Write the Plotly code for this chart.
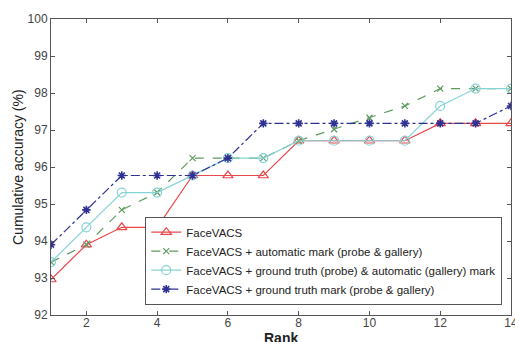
import plotly.graph_objects as go

rank = list(range(1, 15))
facevacs = [92.96, 93.90, 94.37, 94.37, 95.77, 95.77, 95.77, 96.71, 96.71, 96.71, 96.71, 97.18, 97.18, 97.18]
auto_mark = [93.43, 93.90, 94.84, 95.31, 96.24, 96.24, 96.24, 96.71, 97.02, 97.33, 97.65, 98.12, 98.12, 98.12]
gt_probe_auto_gallery = [93.43, 94.37, 95.31, 95.31, 95.77, 96.24, 96.24, 96.71, 96.71, 96.71, 96.71, 97.65, 98.12, 98.12]
gt_mark = [93.90, 94.84, 95.77, 95.77, 95.77, 96.24, 97.18, 97.18, 97.18, 97.18, 97.18, 97.18, 97.18, 97.65]

names = [
    "FaceVACS",
    "FaceVACS + automatic mark (probe &amp; gallery)",
    "FaceVACS + ground truth (probe) &amp; automatic (gallery) mark",
    "FaceVACS + ground truth mark (probe &amp; gallery)",
]
x_ticks = [2, 4, 6, 8, 10, 12, 14]
y_ticks = [92, 93, 94, 95, 96, 97, 98, 99, 100]
FONT = "Liberation Sans, Arial"

fig = go.Figure()
fig.add_trace(go.Scatter(x=rank, y=facevacs, name=names[0], mode="lines+markers",
                         line=dict(color="#e8474c", width=1.2),
                         marker=dict(symbol="triangle-up-open", size=9, color="#e8474c", line=dict(width=1.2))))
fig.add_trace(go.Scatter(x=rank, y=auto_mark, name=names[1], mode="lines+markers",
                         line=dict(color="#5f9a5f", width=1.2, dash="dash"),
                         marker=dict(symbol="x-thin-open", size=6, color="#5f9a5f", line=dict(width=1.2))))
fig.add_trace(go.Scatter(x=rank, y=gt_probe_auto_gallery, name=names[2], mode="lines+markers",
                         line=dict(color="#86d3d6", width=1.2),
                         marker=dict(symbol="circle-open", size=9, color="#86d3d6", line=dict(width=1.2))))
fig.add_trace(go.Scatter(x=rank, y=gt_mark, name=names[3], mode="lines+markers",
                         line=dict(color="#2e3192", width=1.2, dash="dashdot"),
                         marker=dict(symbol="asterisk-open", size=7, color="#2e3192", line=dict(width=1.6))))

axis_common = dict(showgrid=False, zeroline=False, showline=True, linecolor="#555555", linewidth=1,
                   mirror="ticks", ticks="inside", ticklen=4, tickcolor="#555555", automargin=False,
                   ticklabeloverflow="allow",
                   tickfont=dict(family=FONT, size=12, color="#444444"))
fig.update_xaxes(range=[1, 14], tickvals=x_ticks, ticktext=[str(v) for v in x_ticks],
                 ticklabelstandoff=-3, **axis_common)
fig.update_yaxes(range=[92, 100], tickvals=y_ticks, ticktext=[str(v) for v in y_ticks],
                 **axis_common)

fig.add_annotation(text="<b>Rank</b>", xref="paper", yref="paper", x=0.5, y=0,
                   xanchor="center", yanchor="top", yshift=-13, showarrow=False,
                   font=dict(family=FONT, size=14, color="#222222"))
fig.add_annotation(text="Cumulative accuracy (%)", xref="paper", yref="paper", x=0, y=0.5,
                   xanchor="center", yanchor="middle", xshift=-33, textangle=-90, showarrow=False,
                   font=dict(family=FONT, size=14, color="#222222"))

fig.update_layout(
    width=515, height=342,
    margin=dict(l=51, r=4, t=19, b=27),
    paper_bgcolor="white", plot_bgcolor="white",
    showlegend=True,
    legend=dict(x=0.981, y=0.035, xanchor="right", yanchor="bottom",
                bgcolor="white", bordercolor="#555555", borderwidth=1,
                font=dict(family=FONT, size=11.5, color="#222222"),
                tracegroupgap=0, itemwidth=30),
)

fig.write_html("out.html", config={"displayModeBar": False},
               post_script="document.body.style.margin='0';document.body.style.overflow='hidden';")
